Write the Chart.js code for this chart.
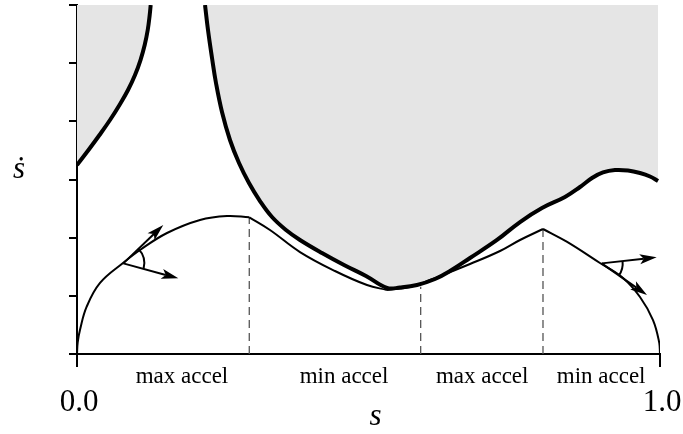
<!DOCTYPE html>
<html><head><meta charset="utf-8">
<script src="https://cdn.jsdelivr.net/npm/chart.js@4"></script>
<style>html,body{margin:0;padding:0;background:#fff}#wrap{width:683px;height:434px}</style>
</head><body><div id="wrap"><canvas id="c" width="683" height="434"></canvas></div>
<script>
// ---- data (s = path parameter, v = s-dot) ----
const limitLeftS = [0, 0.0197, 0.0386, 0.0566, 0.0729, 0.0875, 0.0995, 0.1089, 0.1161, 0.1213, 0.1247, 0.1264];
const limitLeftV = [3.249, 3.507, 3.765, 4.023, 4.281, 4.538, 4.796, 5.054, 5.312, 5.570, 5.828, 6.0];

const limitRightS = [0.2196, 0.2247, 0.2316, 0.2384, 0.2487, 0.2624, 0.2779, 0.2950, 0.3139, 0.3345, 0.3585, 0.3825, 0.4202, 0.4580, 0.4957, 0.5317, 0.5540, 0.5832, 0.6141, 0.6398, 0.6741, 0.7204, 0.7599, 0.7976, 0.8370, 0.8628, 0.8834, 0.9022, 0.9228, 0.9451, 0.9657, 0.9829, 0.9966];
const limitRightV = [6.0, 5.570, 5.089, 4.659, 4.160, 3.679, 3.283, 2.940, 2.630, 2.355, 2.132, 1.960, 1.736, 1.530, 1.341, 1.135, 1.143, 1.186, 1.289, 1.427, 1.650, 1.960, 2.269, 2.510, 2.699, 2.871, 3.026, 3.121, 3.163, 3.155, 3.112, 3.052, 2.974];

const maxAccel1S = [0, 0.0012, 0.0051, 0.0166, 0.0395, 0.0789, 0.1081, 0.1544, 0.211, 0.2573, 0.2955];
const maxAccel1V = [0, 0.200, 0.413, 0.813, 1.221, 1.564, 1.788, 2.080, 2.304, 2.372, 2.350];

const minAccel1S = [0.2955, 0.331, 0.3825, 0.4425, 0.4974, 0.5317];
const minAccel1V = [2.350, 2.132, 1.753, 1.427, 1.186, 1.100];

const maxAccel2S = [0.5317, 0.5712, 0.6055, 0.6398, 0.6741, 0.7256, 0.7599, 0.7993];
const maxAccel2V = [1.100, 1.152, 1.272, 1.410, 1.547, 1.771, 1.960, 2.149];

const minAccel2S = [0.7993, 0.840, 0.897, 0.9365, 0.9657, 0.988, 0.9988, 1.0];
const minAccel2V = [2.149, 1.931, 1.564, 1.307, 0.980, 0.584, 0.189, 0];

// switching points (dashed verticals): s and profile height
const switchS = [0.2955, 0.5895, 0.7993];
const switchV = [2.350, 1.157, 2.149];

// segment labels
const segmentLabels = ['max accel', 'min accel', 'max accel', 'min accel'];
const segmentLabelS = [0.180, 0.458, 0.695, 0.899];

// tick labels
const xTickValues = [0, 1];
const xTickLabels = ['0.0', '1.0'];
const yTickStep = 1;
const yMax = 6;

// arrows: origin and two tips (data units)
const arrowOriginS = [0.0794, 0.900];
const arrowOriginV = [1.558, 1.558];
const arrowTipAS = [0.148, 0.9943];
const arrowTipAV = [2.218, 1.662];
const arrowTipBS = [0.1738, 0.9777];
const arrowTipBV = [1.301, 1.014];

const xTitle = 's';
const yTitle = '\u1E61';

// ---- build ----
const pts = (S, V) => S.map((s, i) => ({x: s, y: V[i]}));

const datasets = [];
const profileStyle = {borderColor: '#000', borderWidth: 2, pointRadius: 0, fill: false, tension: 0.4, order: 1};
[[maxAccel1S, maxAccel1V], [minAccel1S, minAccel1V], [maxAccel2S, maxAccel2V], [minAccel2S, minAccel2V]].forEach(([S, V]) => {
  datasets.push(Object.assign({data: pts(S, V)}, profileStyle));
});
switchS.forEach((s, i) => {
  datasets.push({data: [{x: s, y: 0}, {x: s, y: switchV[i]}], borderColor: '#555', borderWidth: 1.3, borderDash: [8, 5], pointRadius: 0, fill: false, order: 2});
});
[[limitLeftS, limitLeftV], [limitRightS, limitRightV]].forEach(([S, V]) => {
  datasets.push({data: pts(S, V), borderColor: '#000', borderWidth: 4, pointRadius: 0, fill: 'end', backgroundColor: '#e5e5e5', tension: 0.4, order: 3});
});

const SERIF = '"Liberation Serif", "Times New Roman", serif';

function drawArrow(ctx, ox, oy, tx, ty) {
  const dx = tx - ox, dy = ty - oy, len = Math.hypot(dx, dy);
  const ux = dx / len, uy = dy / len, nx = -uy, ny = ux;
  const L = 17, W = 5, notch = 4;
  ctx.beginPath();
  ctx.moveTo(ox, oy);
  ctx.lineTo(tx - ux * (L - notch), ty - uy * (L - notch));
  ctx.stroke();
  ctx.beginPath();
  ctx.moveTo(tx, ty);
  ctx.lineTo(tx - ux * L + nx * W, ty - uy * L + ny * W);
  ctx.lineTo(tx - ux * (L - notch), ty - uy * (L - notch));
  ctx.lineTo(tx - ux * L - nx * W, ty - uy * L - ny * W);
  ctx.closePath();
  ctx.fill();
}

const annot = {
  id: 'annot',
  afterDraw(chart) {
    const {ctx, scales: {x, y}} = chart;
    ctx.save();
    ctx.strokeStyle = '#000';
    ctx.fillStyle = '#000';
    ctx.lineWidth = 2;
    arrowOriginS.forEach((s, i) => {
      const ox = x.getPixelForValue(s), oy = y.getPixelForValue(arrowOriginV[i]);
      const ax = x.getPixelForValue(arrowTipAS[i]), ay = y.getPixelForValue(arrowTipAV[i]);
      const bx = x.getPixelForValue(arrowTipBS[i]), by = y.getPixelForValue(arrowTipBV[i]);
      drawArrow(ctx, ox, oy, ax, ay);
      drawArrow(ctx, ox, oy, bx, by);
      const a1 = Math.atan2(ay - oy, ax - ox), a2 = Math.atan2(by - oy, bx - ox);
      let d = a2 - a1;
      while (d > Math.PI) d -= 2 * Math.PI;
      while (d < -Math.PI) d += 2 * Math.PI;
      ctx.beginPath();
      ctx.arc(ox, oy, 21, a1, a1 + d, d < 0);
      ctx.stroke();
    });
    // segment labels
    ctx.textAlign = 'center';
    ctx.textBaseline = 'alphabetic';
    ctx.font = '23px ' + SERIF;
    const axisY = y.getPixelForValue(0);
    segmentLabels.forEach((t, i) => {
      ctx.fillText(t, x.getPixelForValue(segmentLabelS[i]), axisY + 29);
    });
    // tick labels
    ctx.font = '31px ' + SERIF;
    xTickValues.forEach((v, i) => {
      ctx.fillText(xTickLabels[i], x.getPixelForValue(v) + 2, axisY + 57);
    });
    // axis titles
    ctx.font = 'italic 31px ' + SERIF;
    ctx.fillText(xTitle, (x.left + x.right) / 2 + 7, axisY + 71);
    ctx.fillText(yTitle, 19, y.getPixelForValue(3) - 2);
    ctx.restore();
  }
};

new Chart(document.getElementById('c'), {
  type: 'line',
  data: {datasets},
  options: {
    responsive: false,
    animation: false,
    devicePixelRatio: 1,
    layout: {padding: {top: 5, right: 23, left: 0, bottom: 0}},
    plugins: {legend: {display: false}, tooltip: {enabled: false}},
    scales: {
      x: {
        type: 'linear', min: 0, max: 1,
        ticks: {display: false, stepSize: 1},
        grid: {drawOnChartArea: false, color: '#000', lineWidth: 2, tickLength: 13},
        border: {display: true, color: '#000', width: 2},
        afterFit: (sc) => { sc.height = 80; }
      },
      y: {
        type: 'linear', min: 0, max: yMax,
        ticks: {display: false, stepSize: yTickStep},
        grid: {drawOnChartArea: false, color: '#000', lineWidth: 2, tickLength: 8},
        border: {display: true, color: '#000', width: 2},
        afterFit: (sc) => { sc.width = 77; }
      }
    }
  },
  plugins: [annot]
});
</script>
</body></html>
